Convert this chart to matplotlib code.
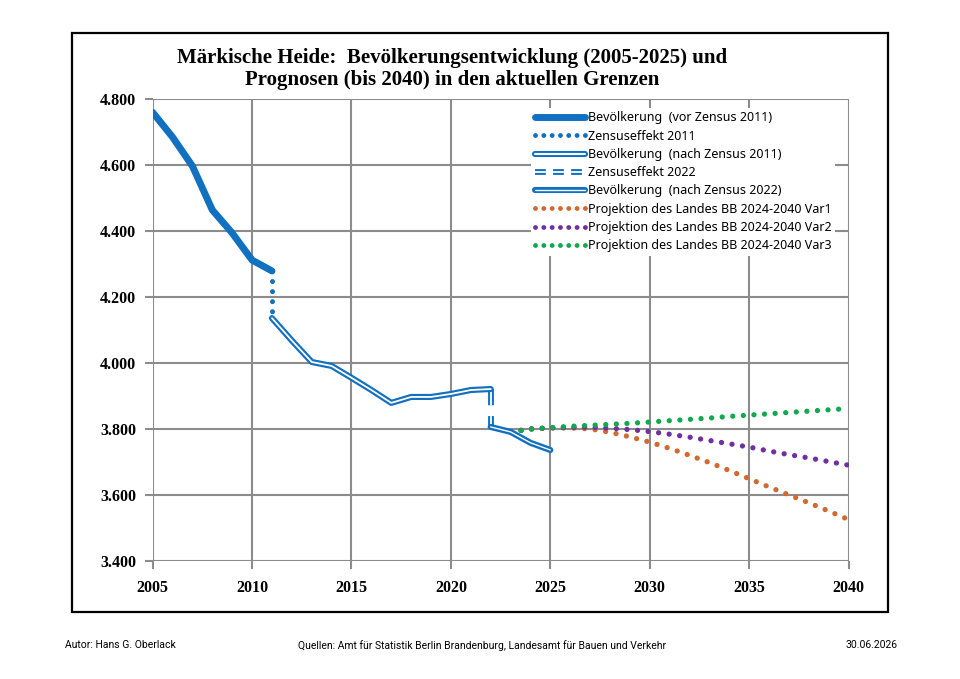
import matplotlib
matplotlib.use("Agg")
import matplotlib.pyplot as plt
import matplotlib.patheffects as pe
from matplotlib.lines import Line2D
from matplotlib.patches import Rectangle
from matplotlib.ticker import FuncFormatter

# Bevoelkerung vor Zensus 2011
years_pre = [2005, 2006, 2007, 2008, 2009, 2010, 2011]
pop_pre = [4760, 4685, 4597, 4464, 4394, 4312, 4279]

# Bevoelkerung nach Zensus 2011
years_mid = list(range(2011, 2023))
pop_mid = [4136, 4068, 4003, 3991, 3955, 3918, 3879, 3897, 3897, 3906, 3918, 3921]

# Bevoelkerung nach Zensus 2022
years_post = [2022, 2023, 2024, 2025]
pop_post = [3806, 3791, 3758, 3736]

# Projektionen des Landes BB
years_proj = list(range(2023, 2041))
var1 = [3791, 3800, 3803, 3803, 3800, 3790, 3776, 3760, 3741, 3720, 3698, 3674,
        3649, 3624, 3600, 3576, 3551, 3525]
var2 = [3791, 3800, 3803, 3805, 3805, 3802, 3798, 3792, 3784, 3775, 3765, 3755,
        3745, 3733, 3722, 3712, 3701, 3690]
var3 = [3791, 3799, 3804, 3808, 3811, 3814, 3817, 3821, 3825, 3829, 3833, 3838,
        3842, 3846, 3850, 3854, 3858, 3862]

labels = ["Bevölkerung  (vor Zensus 2011)", "Zensuseffekt 2011",
          "Bevölkerung  (nach Zensus 2011)", "Zensuseffekt 2022",
          "Bevölkerung  (nach Zensus 2022)",
          "Projektion des Landes BB 2024-2040 Var1",
          "Projektion des Landes BB 2024-2040 Var2",
          "Projektion des Landes BB 2024-2040 Var3"]

blue = "#1170BF"
c_var1 = "#D2692E"
c_var2 = "#7030A0"
c_var3 = "#12A84E"


def double(width, inner):
    # blaue Kontur mit weisser Mitte
    return dict(color="white", lw=inner,
                path_effects=[pe.Stroke(linewidth=width, foreground=blue), pe.Normal()])


dot = (0, (0.01, 2.0))
dash = (0, (9, 6))

fig = plt.figure(figsize=(9.6, 6.79), dpi=100)
ax = fig.add_axes([0.159, 0.174, 0.725, 0.680])

# Zensus-Spruenge
ax.plot([2011, 2011], [pop_pre[-1], pop_mid[0]], color=blue, lw=3.6,
        ls=dot, dash_capstyle="round", zorder=3)
ax.plot([2022, 2022], [pop_mid[-1], pop_post[0]], ls=dash, zorder=3,
        **double(4.2, 1.3))

ax.plot(years_pre, pop_pre, color=blue, lw=5.0, solid_capstyle="round", zorder=4)
ax.plot(years_mid, pop_mid, zorder=4, solid_capstyle="round", **double(4.4, 1.3))
ax.plot(years_post, pop_post, zorder=4, solid_capstyle="round", **double(4.4, 1.0))

ax.plot(years_proj, var1, color=c_var1, lw=3.8, ls=dot, dash_capstyle="round", zorder=3)
ax.plot(years_proj, var2, color=c_var2, lw=3.8, ls=dot, dash_capstyle="round", zorder=3)
ax.plot(years_proj, var3, color=c_var3, lw=3.8, ls=dot, dash_capstyle="round", zorder=3)

ax.set_xlim(2005, 2040)
ax.set_ylim(3400, 4800)
ax.set_xticks(range(2005, 2041, 5))
ax.set_yticks(range(3400, 4801, 200))
ax.yaxis.set_major_formatter(FuncFormatter(lambda v, p: f"{int(v):,}".replace(",", ".")))
ax.grid(True, color="#8c8c8c", lw=1.5)
ax.set_axisbelow(True)
for s in ax.spines.values():
    s.set_visible(False)
ax.tick_params(axis="both", length=6, width=1.5, color="#8c8c8c")
ax.tick_params(axis="x", pad=8)
ax.tick_params(axis="y", pad=6)
for lab in ax.get_xticklabels() + ax.get_yticklabels():
    lab.set_family("Liberation Serif")
    lab.set_fontweight("bold")
    lab.set_fontsize(11.5)

# Legende
dot_leg = (0, (0.01, 1.7))
handles = [
    Line2D([], [], color=blue, lw=5.0, solid_capstyle="round"),
    Line2D([], [], color=blue, lw=3.5, ls=dot_leg, dash_capstyle="round"),
    Line2D([], [], solid_capstyle="round", **double(4.4, 1.5)),
    Line2D([], [], ls=(0, (6, 4)), **double(4.2, 1.3)),
    Line2D([], [], solid_capstyle="round", **double(4.4, 1.0)),
    Line2D([], [], color=c_var1, lw=3.5, ls=dot_leg, dash_capstyle="round"),
    Line2D([], [], color=c_var2, lw=3.5, ls=dot_leg, dash_capstyle="round"),
    Line2D([], [], color=c_var3, lw=3.5, ls=dot_leg, dash_capstyle="round"),
]
leg = ax.legend(handles, labels, loc="upper left", bbox_to_anchor=(0.535, 0.995),
                frameon=True, facecolor="white", edgecolor="none", framealpha=1.0,
                prop={"family": "Noto Sans", "size": 9}, handlelength=4.0,
                handletextpad=0.2, labelspacing=0.42, borderpad=0.3)
leg.set_zorder(5)

# Titel
title_font = dict(ha="center", va="center", family="Liberation Serif",
                  fontweight="bold", fontsize=15)
fig.text(0.471, 0.915, "Märkische Heide:  Bevölkerungsentwicklung (2005-2025) und",
         **title_font)
fig.text(0.471, 0.882, "Prognosen (bis 2040) in den aktuellen Grenzen", **title_font)

# Rahmen
fig.add_artist(Rectangle((0.075, 0.0987), 0.85, 0.8527, transform=fig.transFigure,
                         fill=False, edgecolor="black", lw=1.6))

# Fusszeile
foot = {"family": ["Liberation Sans Narrow", "Roboto", "DejaVu Sans"], "fontsize": 7.5}
fig.text(0.068, 0.05, "Autor: Hans G. Oberlack", ha="left", va="center", **foot)
fig.text(0.31, 0.05, "Quellen: Amt für Statistik Berlin Brandenburg, Landesamt für Bauen und Verkehr",
         ha="left", va="center", **foot)
fig.text(0.935, 0.05, "30.06.2026", ha="right", va="center", **foot)

fig.savefig("out.png", dpi=100)
